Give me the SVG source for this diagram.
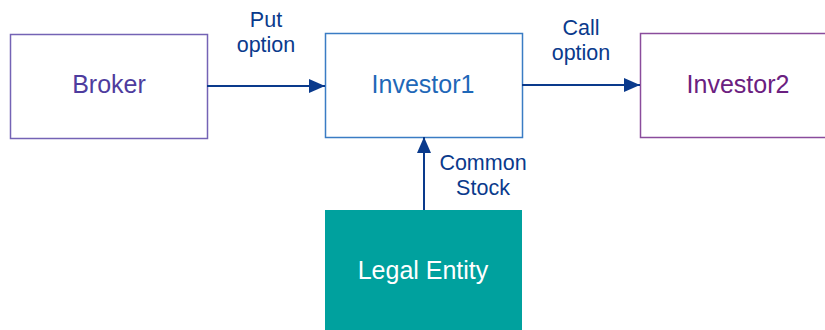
<svg xmlns="http://www.w3.org/2000/svg" width="825" height="330" viewBox="0 0 825 330">
<defs>
<style>
text{font-family:"Liberation Sans",Arial,sans-serif;text-anchor:middle}
.node{font-size:25px}
.lbl{font-size:21.5px;fill:#0a3a8c}
.edge{stroke:#0a3a8c;stroke-width:2;fill:none}
</style>
<marker id="a" viewBox="0 0 16 16" refX="16" refY="8" markerWidth="16" markerHeight="16" markerUnits="userSpaceOnUse" orient="auto">
<path d="M0,1 L16,8 L0,15 z" fill="#0a3a8c"/>
</marker>
</defs>
<rect width="825" height="330" fill="#fff"/>
<g id="broker">
<rect x="10.5" y="34.5" width="197" height="104" fill="#fff" stroke="#7463b5" stroke-width="1.5"/>
<text class="node" x="109" y="93" fill="#4e3c9e">Broker</text>
</g>
<g id="investor1">
<rect x="325.5" y="33.5" width="197" height="104" fill="#fff" stroke="#3a7cc4" stroke-width="1.5"/>
<text class="node" x="423" y="93" fill="#1f68b8">Investor1</text>
</g>
<g id="investor2">
<rect x="640.5" y="33.5" width="197" height="104" fill="#fff" stroke="#8a4c9c" stroke-width="1.5"/>
<text class="node" x="738" y="93" fill="#6b2080">Investor2</text>
</g>
<g id="legal">
<rect x="325" y="210" width="197" height="125" fill="#00a19e"/>
<text class="node" x="423" y="279" fill="#ffffff">Legal Entity</text>
</g>
<g id="connectors">
<line class="edge" x1="207" y1="86" x2="325" y2="86" marker-end="url(#a)"/>
<line class="edge" x1="522" y1="85" x2="640" y2="85" marker-end="url(#a)"/>
<line class="edge" x1="424" y1="210" x2="424" y2="137" marker-end="url(#a)"/>
<text class="lbl" x="266" y="27">Put</text>
<text class="lbl" x="266" y="52">option</text>
<text class="lbl" x="581" y="35">Call</text>
<text class="lbl" x="581" y="60">option</text>
<text class="lbl" x="483" y="170">Common</text>
<text class="lbl" x="483" y="195">Stock</text>
</g>
</svg>
